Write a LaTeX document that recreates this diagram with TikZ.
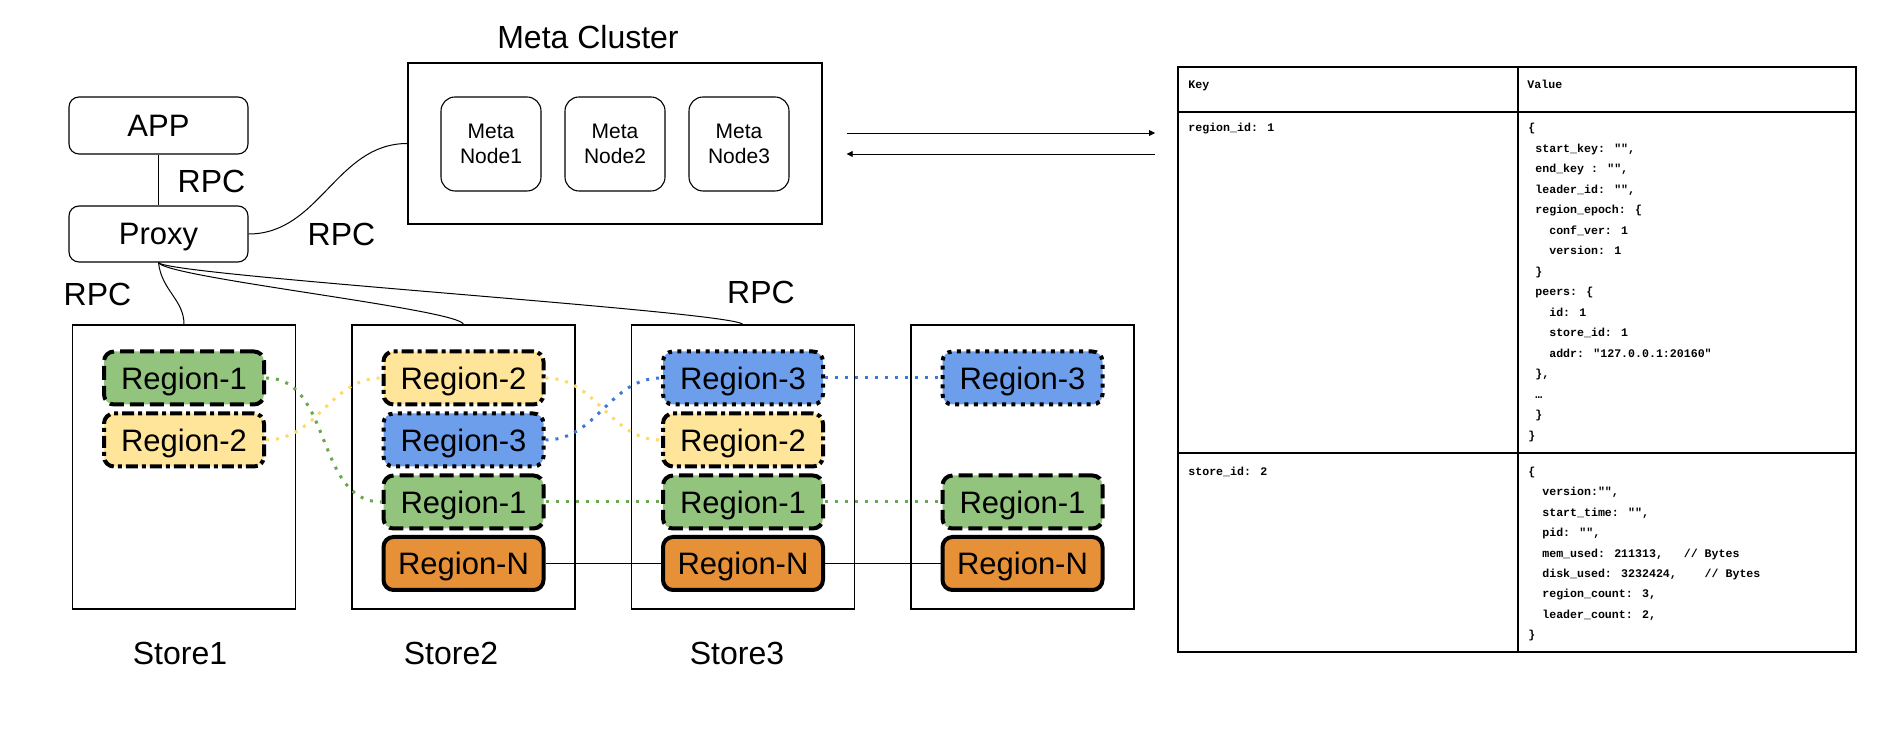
\documentclass[tikz,border=0pt]{standalone}
\usepackage{fontspec}
\setmainfont{Liberation Sans}
\newfontfamily\codefont{Liberation Mono}
\usetikzlibrary{arrows.meta}
\definecolor{rgreen}{HTML}{93C47D}
\definecolor{ryellow}{HTML}{FFE599}
\definecolor{rblue}{HTML}{6D9EEB}
\definecolor{rorange}{HTML}{E69138}
\definecolor{lgreen}{HTML}{6AA84F}
\definecolor{lyellow}{HTML}{FFD966}
\definecolor{lblue}{HTML}{3C78D8}
\newcommand\ind[1]{\hspace*{#1\dimexpr 0.6em\relax}}
\tikzset{
  bigtext/.style={font=\fontsize{16}{19}\selectfont, inner sep=0pt},
  appbox/.style={draw, line width=0.55pt, rounded corners=5pt, minimum width=89.5pt, minimum height=28.5pt, inner sep=0pt, text depth=0pt, font=\fontsize{15.5}{18}\selectfont},
  cluster/.style={draw, line width=0.6pt, minimum width=207pt, minimum height=80.5pt, inner sep=0pt},
  metanode/.style={draw, line width=0.55pt, rounded corners=7pt, minimum width=50pt, minimum height=47pt, inner sep=0pt, align=center, font=\fontsize{10.5}{12.5}\selectfont},
  store/.style={draw, line width=0.55pt, minimum width=111.5pt, minimum height=142pt, inner sep=0pt},
  region/.style={draw, line width=2pt, rounded corners=5pt, minimum width=80pt, minimum height=26.5pt, inner sep=0pt, text depth=0pt, font=\fontsize{15.5}{18}\selectfont},
  regA/.style={region, fill=rgreen, dash pattern=on 7pt off 3pt},
  regB/.style={region, fill=ryellow, dash pattern=on 6pt off 2pt on 2pt off 2pt},
  regC/.style={region, fill=rblue, dash pattern=on 2pt off 2.7pt},
  regN/.style={region, fill=rorange},
  replica/.style={line width=1.5pt, dash pattern=on 1.5pt off 3.5pt},
  wire/.style={line width=0.5pt},
  nline/.style={line width=0.6pt},
  tableline/.style={line width=0.6pt},
  codetext/.style={font=\codefont\bfseries\fontsize{5.8}{7}\selectfont, anchor=base west, inner sep=0pt},
  msgarrow/.style={line width=0.45pt, -{Triangle[length=3pt,width=3pt]}},
}
\begin{document}
\begin{tikzpicture}[x=0.5pt, y=-0.5pt]
\fill[white] (0,0) rectangle (1903,742);

% meta cluster
\node[bigtext] (title) at (588,37) {Meta Cluster};
\node[cluster] (meta) at (615,143.5) {};
\node[metanode] (m1) at (491,144) {Meta\\Node1};
\node[metanode] (m2) at (615,144) {Meta\\Node2};
\node[metanode] (m3) at (739,144) {Meta\\Node3};

% app / proxy
\node[appbox] (app) at (158.5,125.5) {APP};
\node[appbox, minimum height=28pt] (proxy) at (158.5,234) {Proxy};
\node[bigtext] (rpc1) at (211.5,181) {RPC};
\node[bigtext] (rpc2) at (341.5,234.5) {RPC};
\node[bigtext] (rpc3) at (97.5,294) {RPC};
\node[bigtext] (rpc4) at (761,292) {RPC};

% stores
\foreach \n/\cx in {1/184, 2/463.5, 3/743, 4/1022.5}
  \node[store] (s\n) at (\cx,467) {};

% regions
\node[regA] (s1r1) at (184,378) {Region-1};
\node[regB] (s1r2) at (184,440) {Region-2};
\node[regB] (s2r2) at (463.5,378) {Region-2};
\node[regC] (s2r3) at (463.5,440) {Region-3};
\node[regA] (s2r1) at (463.5,502) {Region-1};
\node[regN] (s2rn) at (463.5,563.5) {Region-N};
\node[regC] (s3r3) at (743,378) {Region-3};
\node[regB] (s3r2) at (743,440) {Region-2};
\node[regA] (s3r1) at (743,502) {Region-1};
\node[regN] (s3rn) at (743,563.5) {Region-N};
\node[regC] (s4r3) at (1022.5,378) {Region-3};
\node[regA] (s4r1) at (1022.5,502) {Region-1};
\node[regN] (s4rn) at (1022.5,563.5) {Region-N};

% store labels
\node[bigtext] (l1) at (180,653) {Store1};
\node[bigtext] (l2) at (451,653) {Store2};
\node[bigtext] (l3) at (737,653) {Store3};

% wires
\draw[wire] (app.south) -- (proxy.north);
\draw[wire] (proxy.east) to[out=0,in=180] (meta.west);
\draw[wire] (proxy.south) .. controls +(3,28) and +(0,-25) .. (s1.north);
\draw[wire] (proxy.south) .. controls +(6,15) and +(-2,-15) .. (s2.north);
\draw[wire] (proxy.south) .. controls +(6,13) and +(-8,-13) .. (s3.north);

% replica links
\draw[replica, lgreen] (s1r1.east) to[out=0,in=180] (s2r1.west);
\draw[replica, lgreen] (s2r1.east) -- (s3r1.west);
\draw[replica, lgreen] (s3r1.east) -- (s4r1.west);
\draw[replica, lyellow] (s1r2.east) to[out=0,in=180] (s2r2.west);
\draw[replica, lyellow] (s2r2.east) to[out=0,in=180] (s3r2.west);
\draw[replica, lblue] (s2r3.east) to[out=0,in=180] (s3r3.west);
\draw[replica, lblue] (s3r3.east) -- (s4r3.west);
\draw[nline] (s2rn.east) -- (s3rn.west);
\draw[nline] (s3rn.east) -- (s4rn.west);

% arrows to table
\coordinate (a1s) at (846.7,133);
\coordinate (a1e) at (1155,133);
\coordinate (a2s) at (1155,154);
\coordinate (a2e) at (846.7,154);
\draw[msgarrow] (a1s) -- (a1e);
\draw[msgarrow] (a2s) -- (a2e);

% table
\draw[tableline] (1178,67) rectangle (1856,652);
\draw[tableline] (1518,67) -- (1518,652);
\draw[tableline] (1178,112) -- (1856,112);
\draw[tableline] (1178,453) -- (1856,453);

\node[codetext] (khead) at (1188,88.5) {Key};
\node[codetext] (vhead) at (1527,88.5) {Value};
\node[codetext] (k1) at (1188,132) {region\_id: 1};
\node[codetext] (k2) at (1188,475.5) {store\_id: 2};

\foreach \t [count=\i from 0] in {
 {\{},
 {\ind{1}start\_key: "",},
 {\ind{1}end\_key : "",},
 {\ind{1}leader\_id: "",},
 {\ind{1}region\_epoch: \{},
 {\ind{3}conf\_ver: 1},
 {\ind{3}version: 1},
 {\ind{1}\}},
 {\ind{1}peers: \{},
 {\ind{3}id: 1},
 {\ind{3}store\_id: 1},
 {\ind{3}addr: "127.0.0.1:20160"},
 {\ind{1}\},},
 {\ind{1}…},
 {\ind{1}\}},
 {\}}
}{ \node[codetext] (va\i) at (1528,132+20.5*\i) {\t}; }

\foreach \t [count=\i from 0] in {
 {\{},
 {\ind{2}version:"",},
 {\ind{2}start\_time: "",},
 {\ind{2}pid: "",},
 {\ind{2}mem\_used: 211313,\ind{3}// Bytes},
 {\ind{2}disk\_used: 3232424,\ind{4}// Bytes},
 {\ind{2}region\_count: 3,},
 {\ind{2}leader\_count: 2,},
 {\}}
}{ \node[codetext] (vb\i) at (1528,475.5+20.4*\i) {\t}; }
\end{tikzpicture}
\end{document}
